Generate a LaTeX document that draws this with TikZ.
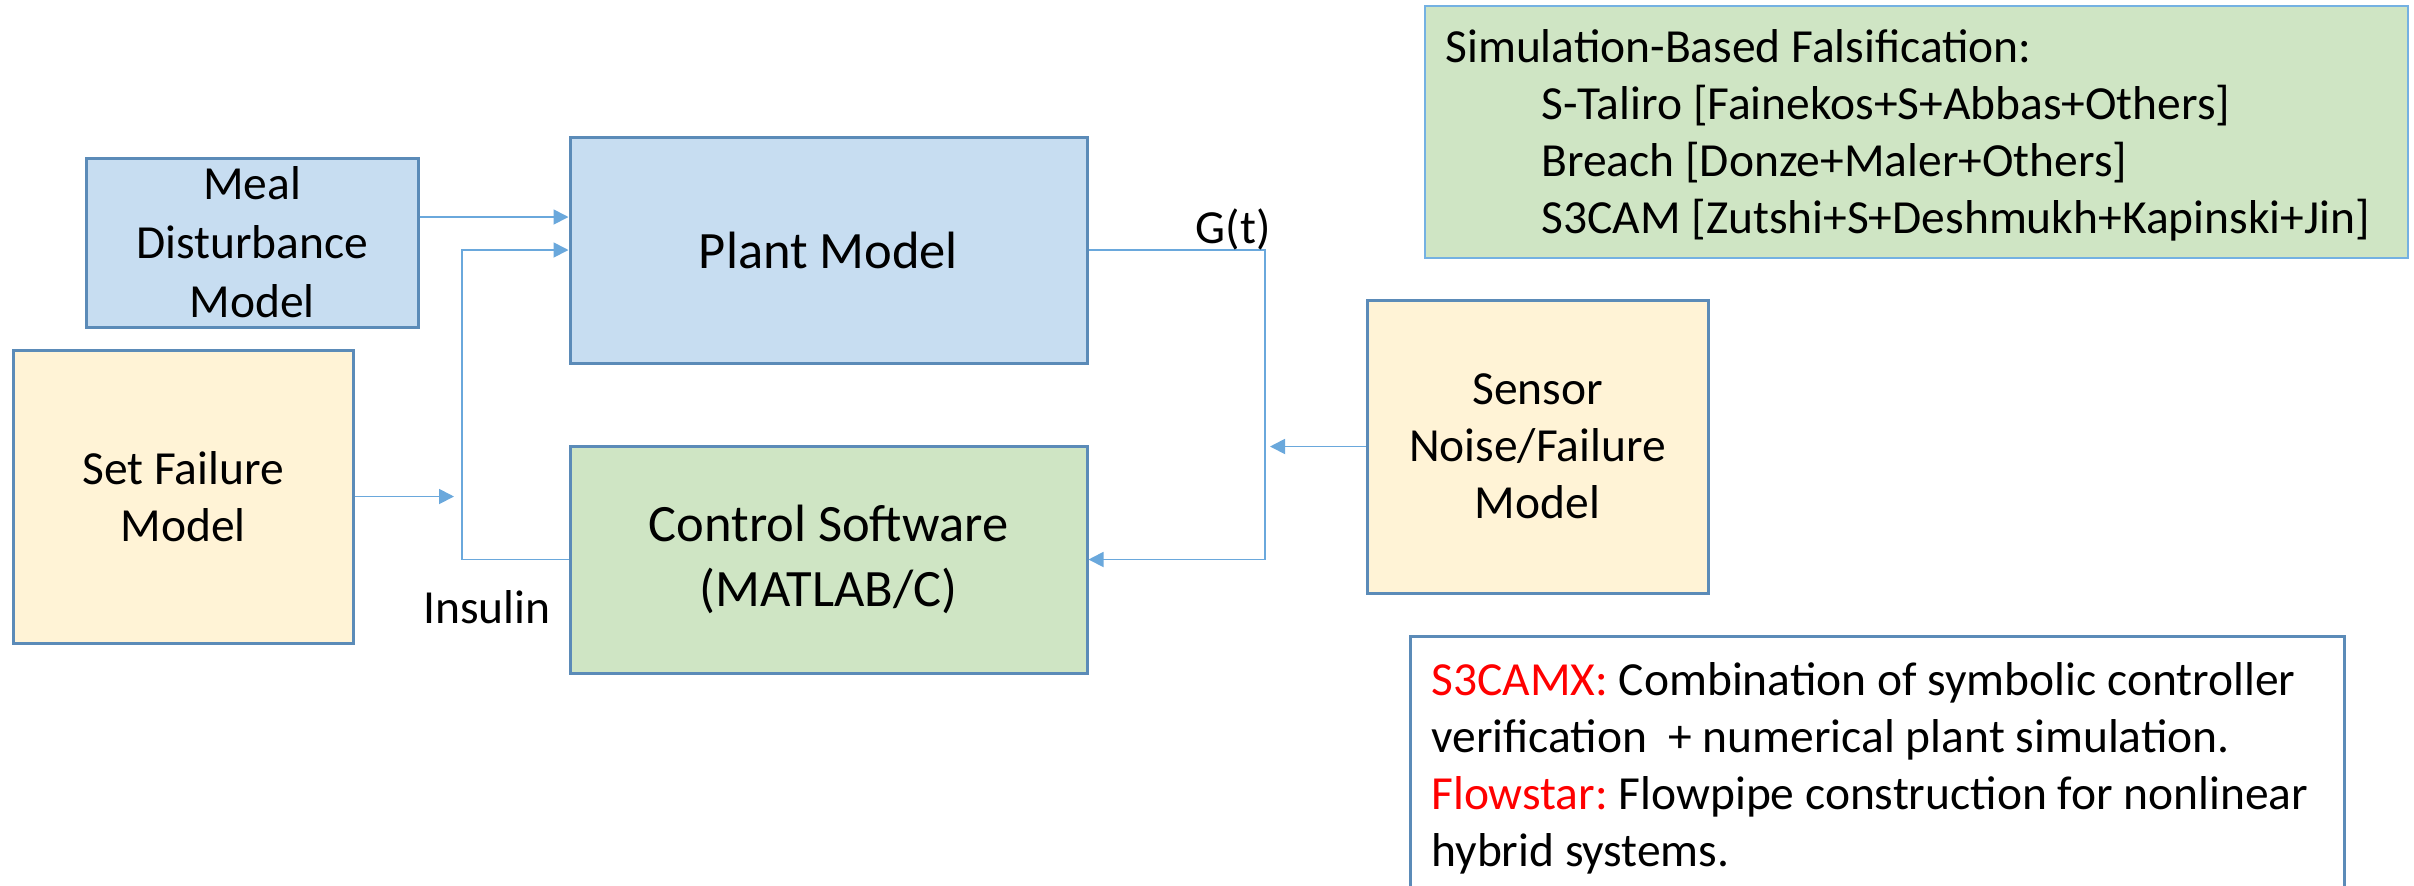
\documentclass[tikz,border=0pt]{standalone}
\usepackage{fontspec}
\setmainfont{Carlito}
\usetikzlibrary{arrows.meta}
\definecolor{bfill}{HTML}{C7DDF1}
\definecolor{bdraw}{HTML}{5B8BB8}
\definecolor{yfill}{HTML}{FFF3D6}
\definecolor{gfill}{HTML}{CFE5C4}
\definecolor{conn}{HTML}{6AA8DC}
\definecolor{simdraw}{HTML}{74B1E2}
\frenchspacing
\begin{document}
\begin{tikzpicture}[x=0.5pt,y=-0.5pt,
  box/.style={draw=bdraw, line width=1.5pt, align=center, inner sep=0pt},
  small/.style={font=\fontsize{23.75}{28.5}\selectfont},
  large/.style={font=\fontsize{26.25}{32.5}\selectfont},
  link/.style={draw=conn, line width=0.9pt, -{Triangle[length=7.5pt,width=7.5pt]}},
  txt/.style={small, anchor=base west, inner sep=0pt},
]
\useasboundingbox (0,0) rectangle (2414,885);

% boxes
\node[box, fill=bfill, small, minimum width=166pt, minimum height=84.5pt] (meal) at (252,242.5) {Meal\\[1pt]Disturbance\\[1pt]Model};
\node[box, fill=bfill, large, minimum width=258.5pt, minimum height=113pt] (plant) at (828.5,250) {Plant Model};
\node[box, fill=yfill, small, minimum width=170pt, minimum height=146.5pt] (sf) at (183,496.5) {Set Failure\\Model};
\node[box, fill=gfill, large, minimum width=258.5pt, minimum height=113.5pt] (ctrl) at (828.5,559.5) {Control Software\\(MATLAB/C)};
\node[box, fill=yfill, small, minimum width=170.5pt, minimum height=146.5pt] (sensor) at (1537.5,446.5) {Sensor\\Noise/Failure\\Model};
\node[draw=simdraw, fill=gfill, line width=1.2pt, inner sep=0pt, minimum width=491.5pt, minimum height=126pt] (sim) at (1916.5,132) {};
\node[draw=bdraw, fill=white, line width=1.5pt, inner sep=0pt, minimum width=467pt, minimum height=136pt] (ver) at (1877,772) {};

% connectors
\coordinate (mealY) at (0,217);
\draw[link] (meal.east |- mealY) -- (plant.west |- mealY);
\coordinate (loopX) at (462,0);
\draw[link] (ctrl.west) -- (loopX |- ctrl.west) -- (loopX |- plant.west) -- (plant.west);
\coordinate (sfend) at (454,0);
\draw[link] (sf.east) -- (sfend |- sf.east);
\coordinate (gX) at (1265,0);
\draw[link] (plant.east) -- (gX |- plant.east) -- (gX |- ctrl.east) -- (ctrl.east);
\coordinate (senend) at (1270,0);
\draw[link] (sensor.west) -- (senend |- sensor.west);

% labels
\node[small, anchor=base east, inner sep=0pt] (glabel) at (1271,243) {G(t)};
\node[txt] (ins) at (423,623) {Insulin};

% simulation box text
\node[txt] (s1) at (1445,62) {Simulation-Based Falsification:};
\node[txt] (s2) at (1541,119) {S-Taliro [Fainekos+S+Abbas+Others]};
\node[txt] (s3) at (1541,176) {Breach [Donze+Maler+Others]};
\node[txt] (s4) at (1541,233) {S3CAM [Zutshi+S+Deshmukh+Kapinski+Jin]};

% verification box text
\node[txt] (v1) at (1431,695) {\textcolor{red}{S3CAMX:} Combination of symbolic controller};
\node[txt] (v2) at (1431,752) {verification\ \ + numerical plant simulation.};
\node[txt] (v3) at (1431,809) {\textcolor{red}{Flowstar:} Flowpipe construction for nonlinear};
\node[txt] (v4) at (1431,866) {hybrid systems.};
\end{tikzpicture}
\end{document}
